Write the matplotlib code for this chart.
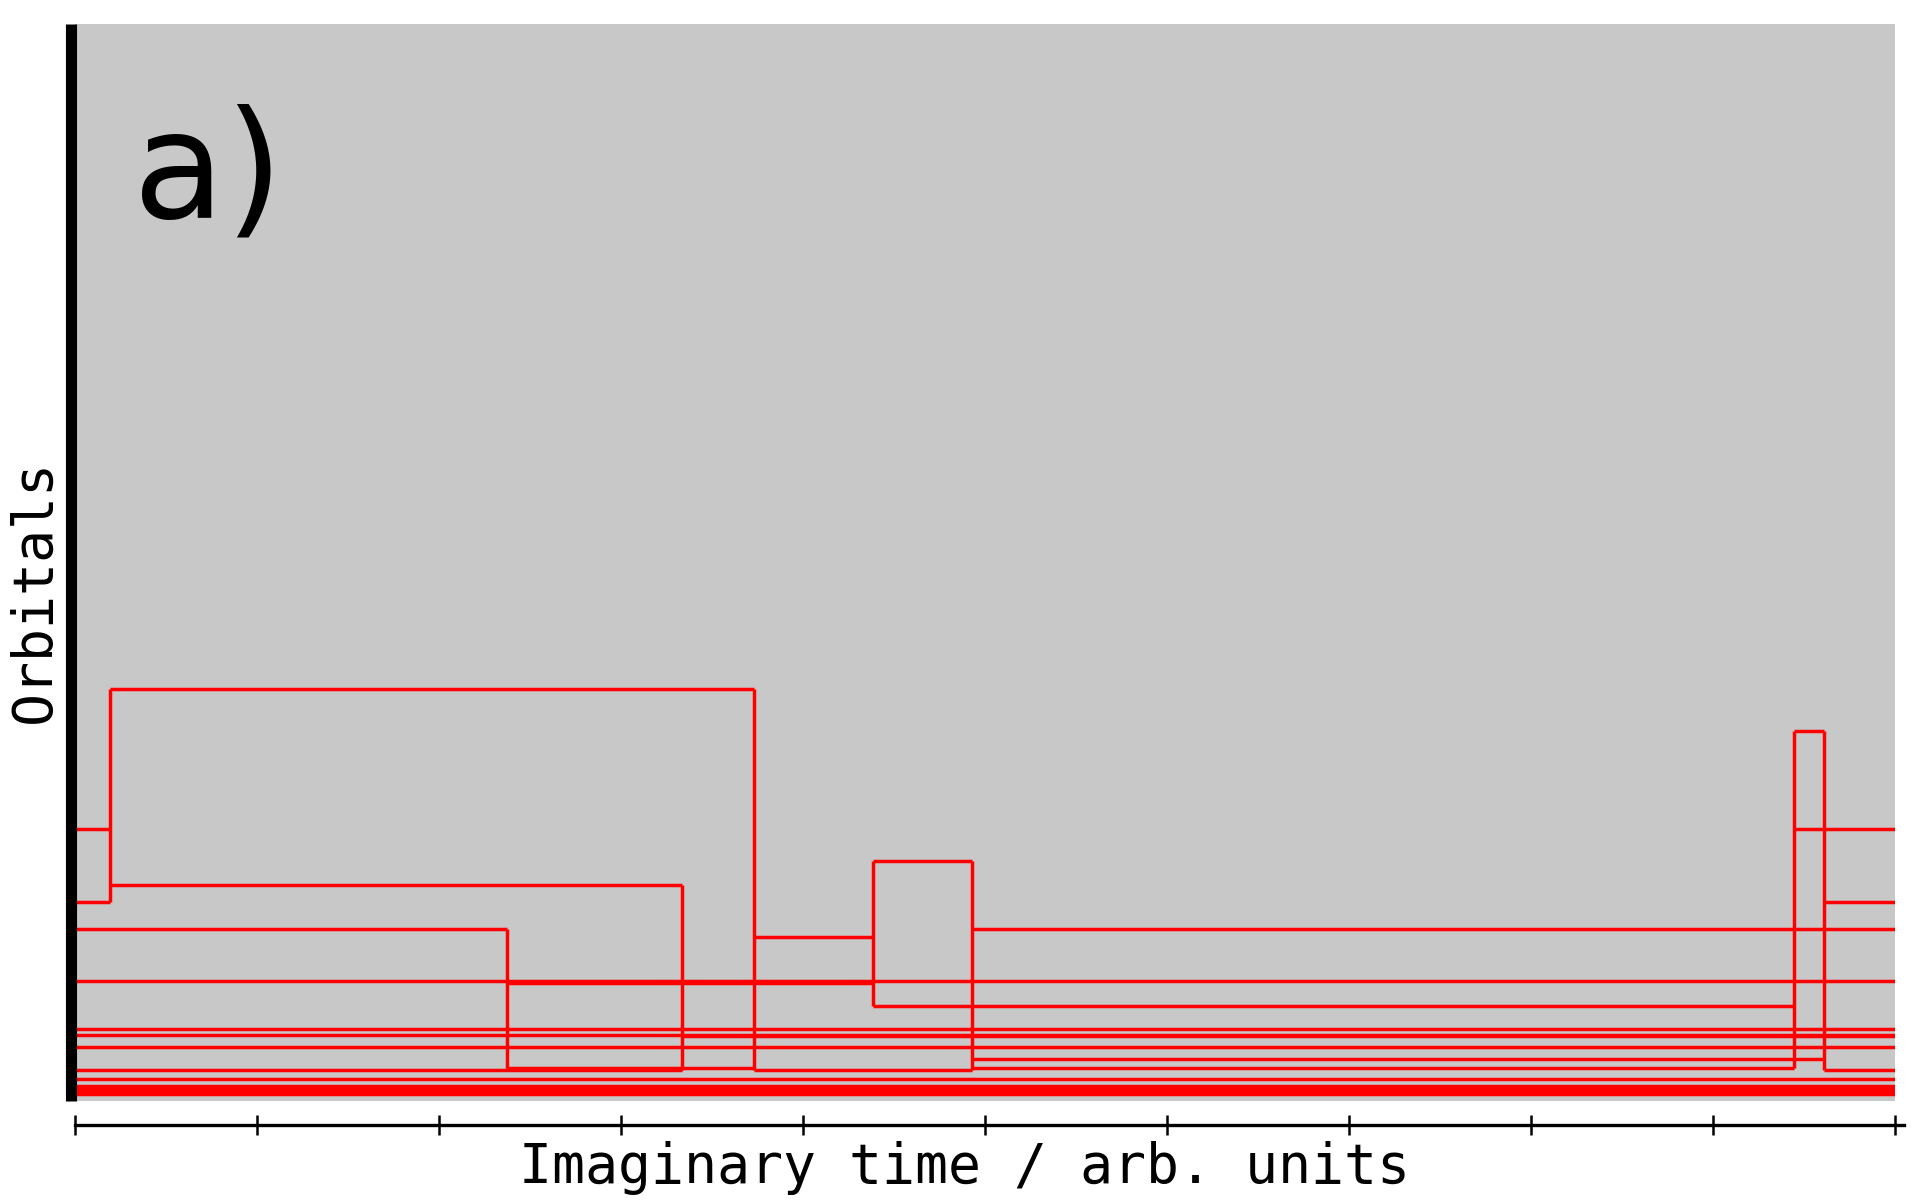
import matplotlib.pyplot as plt

# kinks in the worldlines: imaginary time, upper and lower orbital level
kink_time = [0.19, 2.375, 3.337, 3.733, 4.387, 4.926, 9.445, 9.61]
kink_top = [38.25, 16.0, 20.06, 38.25, 22.28, 22.28, 34.35, 34.35]
kink_bottom = [18.51, 3.0, 2.85, 2.85, 8.82, 2.85, 3.09, 2.85]

# horizontal pieces of the worldlines: orbital level, start time, end time
seg_level = [25.21, 18.51, 16.0, 11.17, 6.69, 6.16, 5.04, 2.85, 2.04,
             1.43, 1.22, 1.02, 0.82, 0.62,
             38.25, 20.06, 10.91, 3.09, 5.99, 15.19, 2.85,
             22.28, 8.82, 16.0, 3.93, 3.09,
             34.35, 25.21, 18.51, 2.85]
seg_start = [0, 0, 0, 0, 0, 0, 0, 0, 0,
             0, 0, 0, 0, 0,
             0.19, 0.19, 2.375, 2.375, 3.337, 3.733, 3.733,
             4.387, 4.387, 4.926, 4.926, 4.926,
             9.445, 9.445, 9.61, 9.61]
seg_end = [0.19, 0.19, 2.375, 10, 10, 10, 10, 3.337, 10,
           10, 10, 10, 10, 10,
           3.733, 3.337, 4.387, 3.733, 10, 4.387, 4.926,
           4.926, 9.445, 10, 9.61, 9.445,
           9.61, 10, 10, 10]

x_ticks = list(range(0, 11))

fig = plt.figure(figsize=(19.2, 12), dpi=100)
ax = fig.add_axes([75 / 1920, 99 / 1200, 1820 / 1920, 1077 / 1200])
ax.set_facecolor('#c8c8c8')

ax.hlines(seg_level, seg_start, seg_end, colors='#ff0000', linewidth=2.5)
ax.vlines(kink_time, kink_bottom, kink_top, colors='#ff0000', linewidth=2.5)

ax.set_xlim(0, 10)
ax.set_ylim(0, 100)
ax.set_xticks(x_ticks)
ax.set_xticklabels([])
ax.set_yticks([])

for side in ['top', 'right']:
    ax.spines[side].set_visible(False)
ax.spines['left'].set_linewidth(8)
ax.spines['left'].set_capstyle('butt')
ax.spines['left'].set_position(('outward', 3))
ax.spines['bottom'].set_linewidth(2.4)
ax.spines['bottom'].set_position(('outward', 17))
ax.spines['bottom'].set_bounds(0, 10.05)
ax.tick_params(axis='x', direction='inout', length=14, width=1.8)

ax.text(0.032, 0.82, 'a)', transform=ax.transAxes, fontsize=108,
        family='DejaVu Sans', va='baseline', ha='left')

fig.text(965 / 1920, 1 - 1168 / 1200, 'Imaginary time / arb. units',
         family='DejaVu Sans Mono', fontsize=39.5, ha='center', va='center')
fig.text(35 / 1920, 1 - 591 / 1200, 'Orbitals', rotation=90,
         family='DejaVu Sans Mono', fontsize=39.5, ha='center', va='center')

plt.savefig('out.png', dpi=100)
